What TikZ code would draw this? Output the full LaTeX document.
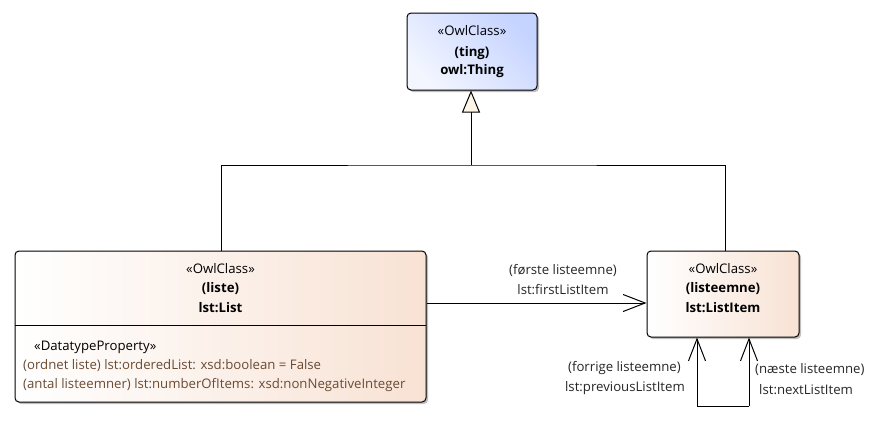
\documentclass[tikz,border=0pt]{standalone}
\usepackage{fontspec}
\setmainfont{Open Sans}
\usetikzlibrary{arrows.meta,shadows,positioning}
\definecolor{thingA}{HTML}{F3F6FF}
\definecolor{thingB}{HTML}{C5D3FF}
\definecolor{clsA}{HTML}{FFFFFF}
\definecolor{clsB}{HTML}{F8E2D4}
\definecolor{attr}{HTML}{6A4B34}
\definecolor{cream}{HTML}{FDF6E8}
\tikzset{
  umlbox/.style={draw=black, line width=1pt, rounded corners=4pt,
    drop shadow={shadow xshift=2pt, shadow yshift=-2pt, opacity=0.25, fill=black},
    inner sep=0pt},
  thingfill/.style={left color=thingA, right color=thingB, shading angle=135},
  clsfill/.style={left color=clsA, right color=clsB},
  txt/.style={font=\fontsize{13.2}{15}\selectfont, inner sep=0pt, anchor=center},
  attrtxt/.style={font=\fontsize{13.2}{15}\selectfont, inner sep=0pt, anchor=west, text=attr},
  lbl/.style={font=\fontsize{13.2}{15}\selectfont, inner sep=0pt, text=black!85},
  conn/.style={draw=black, line width=1pt},
  gen/.style={conn, -{Triangle[length=22pt,width=18pt,fill=cream,line width=1pt]}},
  assoc/.style={conn, -{Straight Barb[length=22pt,width=17pt,line width=1pt]}},
}
\begin{document}
\begin{tikzpicture}[x=1pt,y=-1pt]
\useasboundingbox (0,0) rectangle (892,432);
% Thing
\node[umlbox, thingfill, minimum width=130pt, minimum height=77pt] (thing) at (472,51.5) {};
\node[txt] (thingS) at (472,31) {«OwlClass»};
\node[txt] (thingN) at (472,53) {\bfseries (ting)};
\node[txt] (thingQ) at (472,71) {\bfseries owl:Thing};
% List
\node[umlbox, clsfill, minimum width=411pt, minimum height=151pt] (list) at (220.5,326.5) {};
\draw[conn] (15,325) coordinate (divL) -- (426,325) coordinate (divR);
\node[txt] (listS) at (220.5,269) {«OwlClass»};
\node[txt] (listN) at (220.5,289) {\bfseries (liste)};
\node[txt] (listQ) at (220.5,308) {\bfseries lst:List};
\node[attrtxt, text=black] (a0) at (34,347) {«DatatypeProperty»};
\node[attrtxt] (a1) at (23,366) {(ordnet liste) lst:orderedList: xsd:boolean = False};
\node[attrtxt] (a2) at (23,385) {(antal listeemner) lst:numberOfItems: xsd:nonNegativeInteger};
% ListItem
\node[umlbox, clsfill, minimum width=152pt, minimum height=86pt] (item) at (723,294) {};
\node[txt] (itemS) at (723,269) {«OwlClass»};
\node[txt] (itemN) at (723,289) {\bfseries (listeemne)};
\node[txt] (itemQ) at (723,308) {\bfseries lst:ListItem};
% generalizations
\coordinate (j) at (471,165);
\draw[conn] (list.north -| 221,0) |- (j) -| (item.north -| 725,0);
\draw[gen] (j) -- (thing.south -| j);
% association first
\draw[assoc] (list.east |- 0,303) -- (item.west |- 0,303);
\node[lbl] (l1) at (563,270) {(første listeemne)};
\node[lbl] (l2) at (563,290) {lst:firstListItem};
% self loop
\coordinate (b1) at (697,406);
\coordinate (b2) at (749,406);
\draw[conn] (b1) -- (b2);
\draw[assoc] (b1) -- (item.south -| b1);
\draw[assoc] (b2) -- (item.south -| b2);
\node[lbl, anchor=east] (l3) at (681,368) {(forrige listeemne)};
\node[lbl, anchor=east] (l4) at (685,388) {lst:previousListItem};
\node[lbl, anchor=west] (l5) at (755,370) {(næste listeemne)};
\node[lbl, anchor=west] (l6) at (759,390) {lst:nextListItem};
\end{tikzpicture}
\end{document}
